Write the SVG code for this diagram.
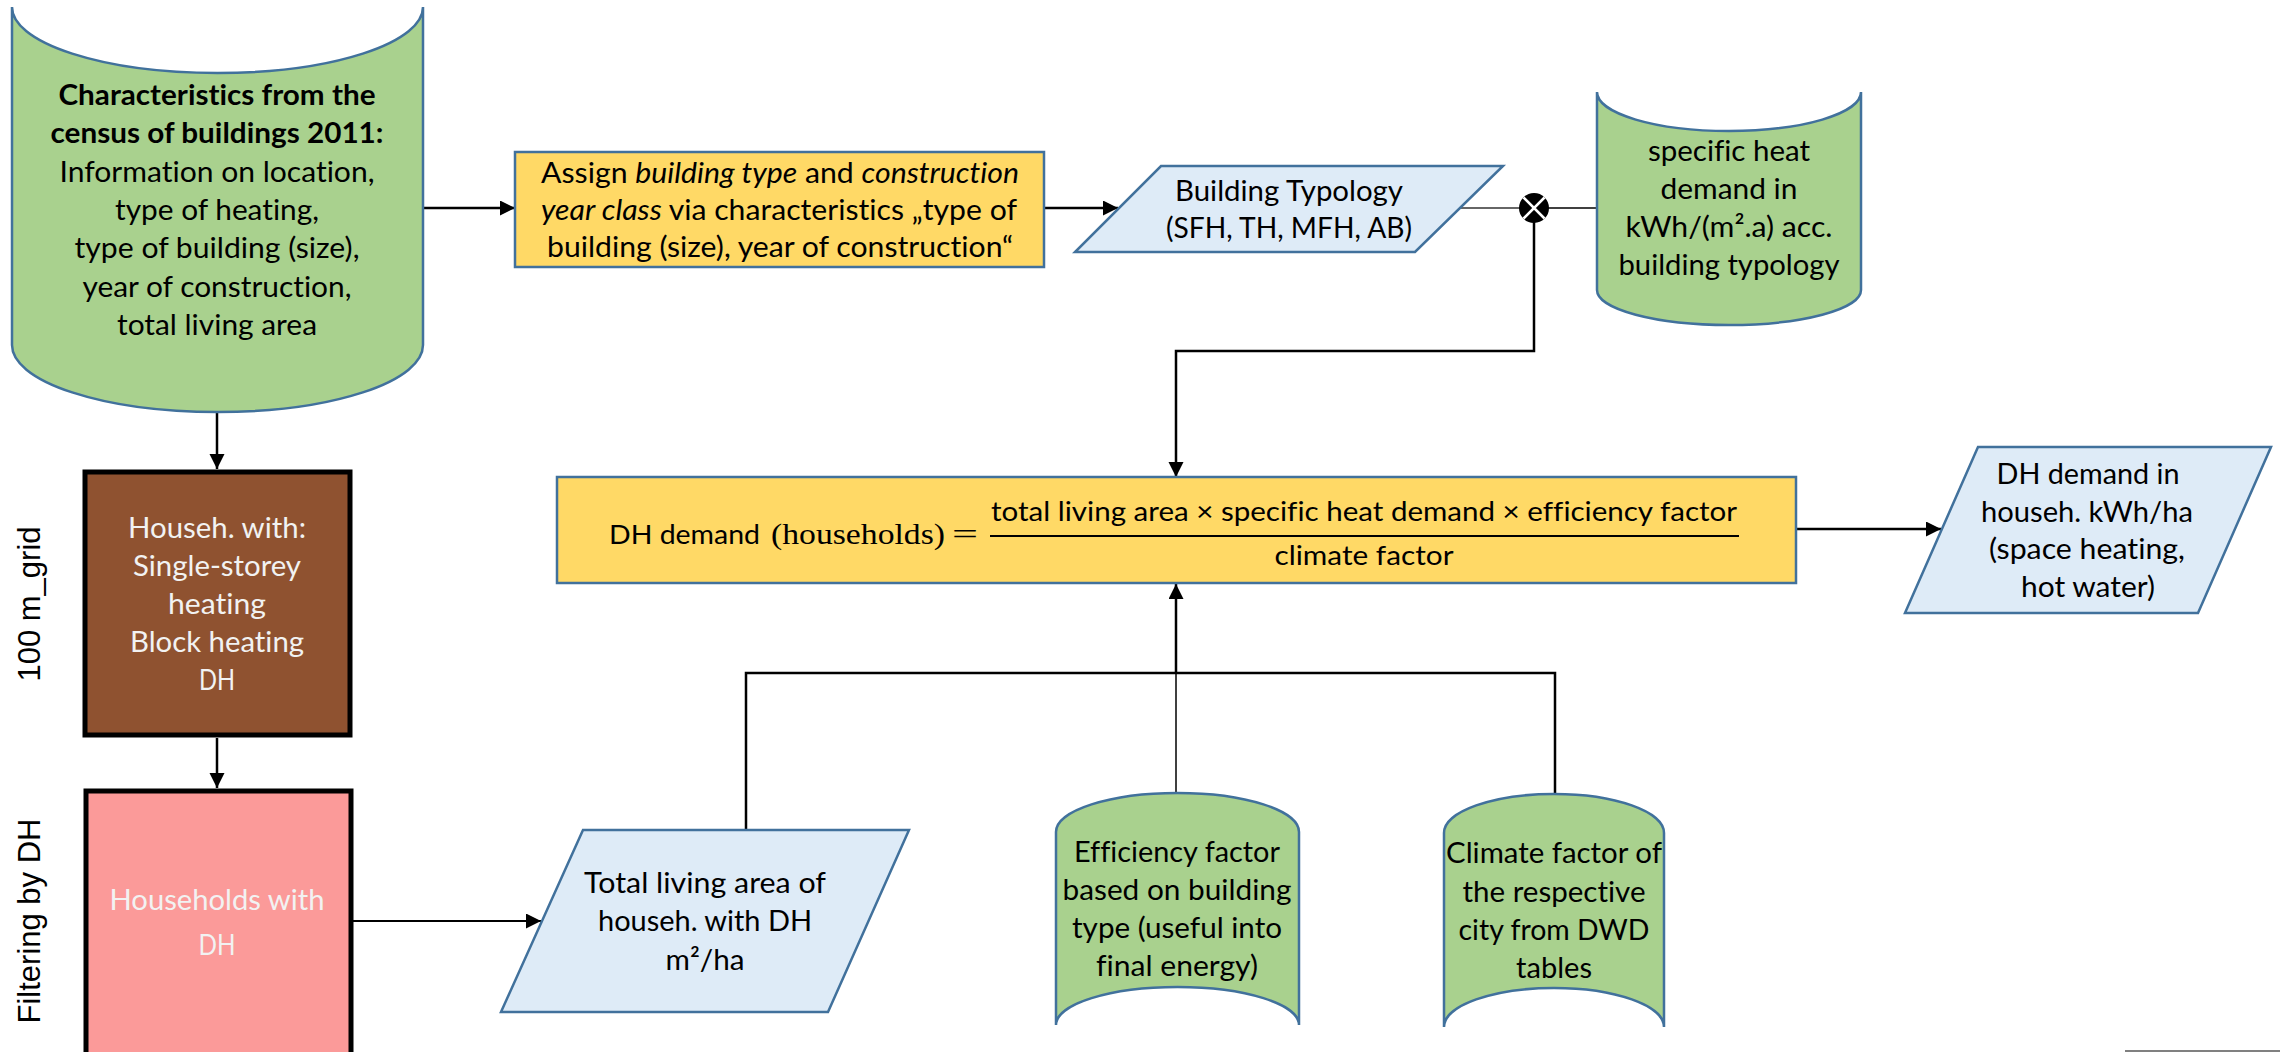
<svg xmlns="http://www.w3.org/2000/svg" width="2280" height="1052" viewBox="0 0 2280 1052">
<style>
text{font-variant-ligatures:none}
.t{font-family:Lato,"Open Sans","Liberation Sans",sans-serif;font-size:28.5px;fill:#000;text-anchor:middle}
.b{font-weight:bold}
.w{fill:#F2F2F2}
.f{font-family:Lato,"Open Sans","Liberation Sans",sans-serif;font-size:27.5px;fill:#000}
.s{font-family:"Liberation Serif","DejaVu Serif",serif;font-size:29px;fill:#000}
.side{font-family:"Liberation Sans",Arial,sans-serif;font-size:31px;fill:#000;text-anchor:middle}
.grn{fill:#A9D18E;stroke:#41719C;stroke-width:2.5}
.yel{fill:#FFD966;stroke:#41719C;stroke-width:2.5}
.lb{fill:#DEEBF7;stroke:#41719C;stroke-width:2.5}
.c{fill:none;stroke:#000;stroke-width:2.5}
.thin{fill:none;stroke:#000;stroke-width:1.5}
</style>
<defs>
<marker id="ah" markerUnits="userSpaceOnUse" markerWidth="16" markerHeight="16" refX="15" refY="7.5" orient="auto">
<path d="M0,0 L15,7.5 L0,15 z" fill="#000"/>
</marker>
</defs>
<rect width="2280" height="1052" fill="#fff"/>

<g id="connectors">
<line class="c" x1="423" y1="208" x2="515" y2="208" marker-end="url(#ah)"/>
<line class="c" x1="1044" y1="208" x2="1118" y2="208" marker-end="url(#ah)"/>
<line x1="1460" y1="208" x2="1520" y2="208" stroke="#333" stroke-width="1.5"/>
<line class="thin" x1="1548" y1="208" x2="1597" y2="208"/>
<path class="c" d="M1534,222 V351 H1176 V477" marker-end="url(#ah)"/>
<line class="c" x1="1796" y1="529" x2="1941" y2="529" marker-end="url(#ah)"/>
<line class="c" x1="217" y1="412" x2="217" y2="469" marker-end="url(#ah)"/>
<line class="c" x1="217" y1="738" x2="217" y2="788" marker-end="url(#ah)"/>
<line x1="353" y1="921" x2="541" y2="921" stroke="#000" stroke-width="2" marker-end="url(#ah)"/>
<path class="c" d="M746,830 V673 H1555 V794"/>
<line class="thin" x1="1176" y1="793" x2="1176" y2="673"/>
<line class="c" x1="1176" y1="673" x2="1176" y2="584" marker-end="url(#ah)"/>
</g>

<g id="census">
<path class="grn" d="M12,7 A205.5,66 0 0 0 423,7 L423,345 A205.5,67 0 0 1 12,345 Z"/>
<text class="t b" x="217" y="105" textLength="317" lengthAdjust="spacingAndGlyphs">Characteristics from the</text>
<text class="t b" x="217" y="143" textLength="333" lengthAdjust="spacingAndGlyphs">census of buildings 2011:</text>
<text class="t" x="217" y="182" textLength="315" lengthAdjust="spacingAndGlyphs">Information on location,</text>
<text class="t" x="217" y="220" textLength="204" lengthAdjust="spacingAndGlyphs">type of heating,</text>
<text class="t" x="217" y="258" textLength="285" lengthAdjust="spacingAndGlyphs">type of building (size),</text>
<text class="t" x="217" y="297" textLength="269" lengthAdjust="spacingAndGlyphs">year of construction,</text>
<text class="t" x="217" y="335" textLength="200" lengthAdjust="spacingAndGlyphs">total living area</text>
</g>

<g id="assign">
<rect class="yel" x="515" y="152" width="529" height="115"/>
<text class="t" x="780" y="183" textLength="478" lengthAdjust="spacingAndGlyphs">Assign <tspan font-style="italic">building type</tspan> and <tspan font-style="italic">construction</tspan></text>
<text class="t" x="779" y="220" textLength="476" lengthAdjust="spacingAndGlyphs"><tspan font-style="italic">year class</tspan> via characteristics „type of</text>
<text class="t" x="780" y="257" textLength="466" lengthAdjust="spacingAndGlyphs">building (size), year of construction“</text>
</g>

<g id="typology">
<polygon class="lb" points="1161,166 1503,166 1415,252 1075,252"/>
<text class="t" x="1289" y="201" textLength="228" lengthAdjust="spacingAndGlyphs">Building Typology</text>
<text class="t" x="1289" y="238" textLength="246" lengthAdjust="spacingAndGlyphs">(SFH, TH, MFH, AB)</text>
</g>

<g id="multiply">
<circle cx="1534" cy="208" r="15" fill="#000"/>
<path d="M1523.5,197.5 L1544.5,218.5 M1544.5,197.5 L1523.5,218.5" stroke="#fff" stroke-width="2.5"/>
</g>

<g id="specific-heat">
<path class="grn" d="M1597,92 A132,39 0 0 0 1861,92 L1861,290 A132,35 0 0 1 1597,290 Z"/>
<text class="t" x="1729" y="161" textLength="162" lengthAdjust="spacingAndGlyphs">specific heat</text>
<text class="t" x="1729" y="199" textLength="137" lengthAdjust="spacingAndGlyphs">demand in</text>
<text class="t" x="1729" y="237" textLength="207" lengthAdjust="spacingAndGlyphs">kWh/(m².a) acc.</text>
<text class="t" x="1729" y="275" textLength="221" lengthAdjust="spacingAndGlyphs">building typology</text>
</g>

<g id="grid-households">
<rect x="85" y="472" width="265" height="263" fill="#8F5230" stroke="#000" stroke-width="5"/>
<text class="t w" x="217" y="538" textLength="178" lengthAdjust="spacingAndGlyphs">Househ. with:</text>
<text class="t w" x="217" y="576" textLength="168" lengthAdjust="spacingAndGlyphs">Single-storey</text>
<text class="t w" x="217" y="614" textLength="98" lengthAdjust="spacingAndGlyphs">heating</text>
<text class="t w" x="217" y="652" textLength="174" lengthAdjust="spacingAndGlyphs">Block heating</text>
<text class="t w" x="217" y="690" textLength="36" lengthAdjust="spacingAndGlyphs">DH</text>
</g>

<g id="dh-households">
<rect x="86" y="791" width="265" height="280" fill="#FB9A99" stroke="#000" stroke-width="5"/>
<text class="t w" x="217" y="910" textLength="215" lengthAdjust="spacingAndGlyphs">Households with</text>
<text class="t w" x="217" y="955" textLength="37" lengthAdjust="spacingAndGlyphs">DH</text>
</g>

<g id="labels">
<text class="side" transform="translate(40,604) rotate(-90)">100 m_grid</text>
<text class="side" transform="translate(40,921) rotate(-90)">Filtering by DH</text>
</g>

<g id="formula">
<rect class="yel" x="557" y="477" width="1239" height="106"/>
<text class="f" x="609" y="544" textLength="151" lengthAdjust="spacingAndGlyphs">DH demand</text>
<text class="s" x="771" y="544" textLength="174" lengthAdjust="spacingAndGlyphs">(households)</text>
<text class="s" x="952" y="544" textLength="26" lengthAdjust="spacingAndGlyphs">=</text>
<text class="f" x="1364" y="521" text-anchor="middle" textLength="746" lengthAdjust="spacingAndGlyphs">total living area × specific heat demand × efficiency factor</text>
<line x1="990" y1="536" x2="1739" y2="536" stroke="#000" stroke-width="2"/>
<text class="f" x="1364" y="565" text-anchor="middle" textLength="179" lengthAdjust="spacingAndGlyphs">climate factor</text>
</g>

<g id="dh-demand">
<polygon class="lb" points="1978,447 2271,447 2198,613 1905,613"/>
<text class="t" x="2088" y="484" textLength="183" lengthAdjust="spacingAndGlyphs">DH demand in</text>
<text class="t" x="2087" y="522" textLength="212" lengthAdjust="spacingAndGlyphs">househ. kWh/ha</text>
<text class="t" x="2087" y="559" textLength="196" lengthAdjust="spacingAndGlyphs">(space heating,</text>
<text class="t" x="2088" y="597" textLength="134" lengthAdjust="spacingAndGlyphs">hot water)</text>
</g>

<g id="living-area">
<polygon class="lb" points="583,830 909,830 828,1012 501,1012"/>
<text class="t" x="705" y="893" textLength="242" lengthAdjust="spacingAndGlyphs">Total living area of</text>
<text class="t" x="705" y="931" textLength="214" lengthAdjust="spacingAndGlyphs">househ. with DH</text>
<text class="t" x="705" y="970" textLength="79" lengthAdjust="spacingAndGlyphs">m²/ha</text>
</g>

<g id="efficiency">
<path class="grn" d="M1056,832 A121.5,39 0 0 1 1299,832 L1299,1025 A121.5,38 0 0 0 1056,1025 Z"/>
<text class="t" x="1177" y="862" textLength="206" lengthAdjust="spacingAndGlyphs">Efficiency factor</text>
<text class="t" x="1177" y="900" textLength="229" lengthAdjust="spacingAndGlyphs">based on building</text>
<text class="t" x="1177" y="938" textLength="210" lengthAdjust="spacingAndGlyphs">type (useful into</text>
<text class="t" x="1177" y="976" textLength="162" lengthAdjust="spacingAndGlyphs">final energy)</text>
</g>

<g id="climate">
<path class="grn" d="M1444,833 A110,39 0 0 1 1664,833 L1664,1027 A110,39 0 0 0 1444,1027 Z"/>
<text class="t" x="1554" y="863" textLength="216" lengthAdjust="spacingAndGlyphs">Climate factor of</text>
<text class="t" x="1554" y="902" textLength="183" lengthAdjust="spacingAndGlyphs">the respective</text>
<text class="t" x="1554" y="940" textLength="191" lengthAdjust="spacingAndGlyphs">city from DWD</text>
<text class="t" x="1554" y="978" textLength="76" lengthAdjust="spacingAndGlyphs">tables</text>
</g>

<line x1="2125" y1="1051" x2="2280" y2="1051" stroke="#808080" stroke-width="2"/>
</svg>
